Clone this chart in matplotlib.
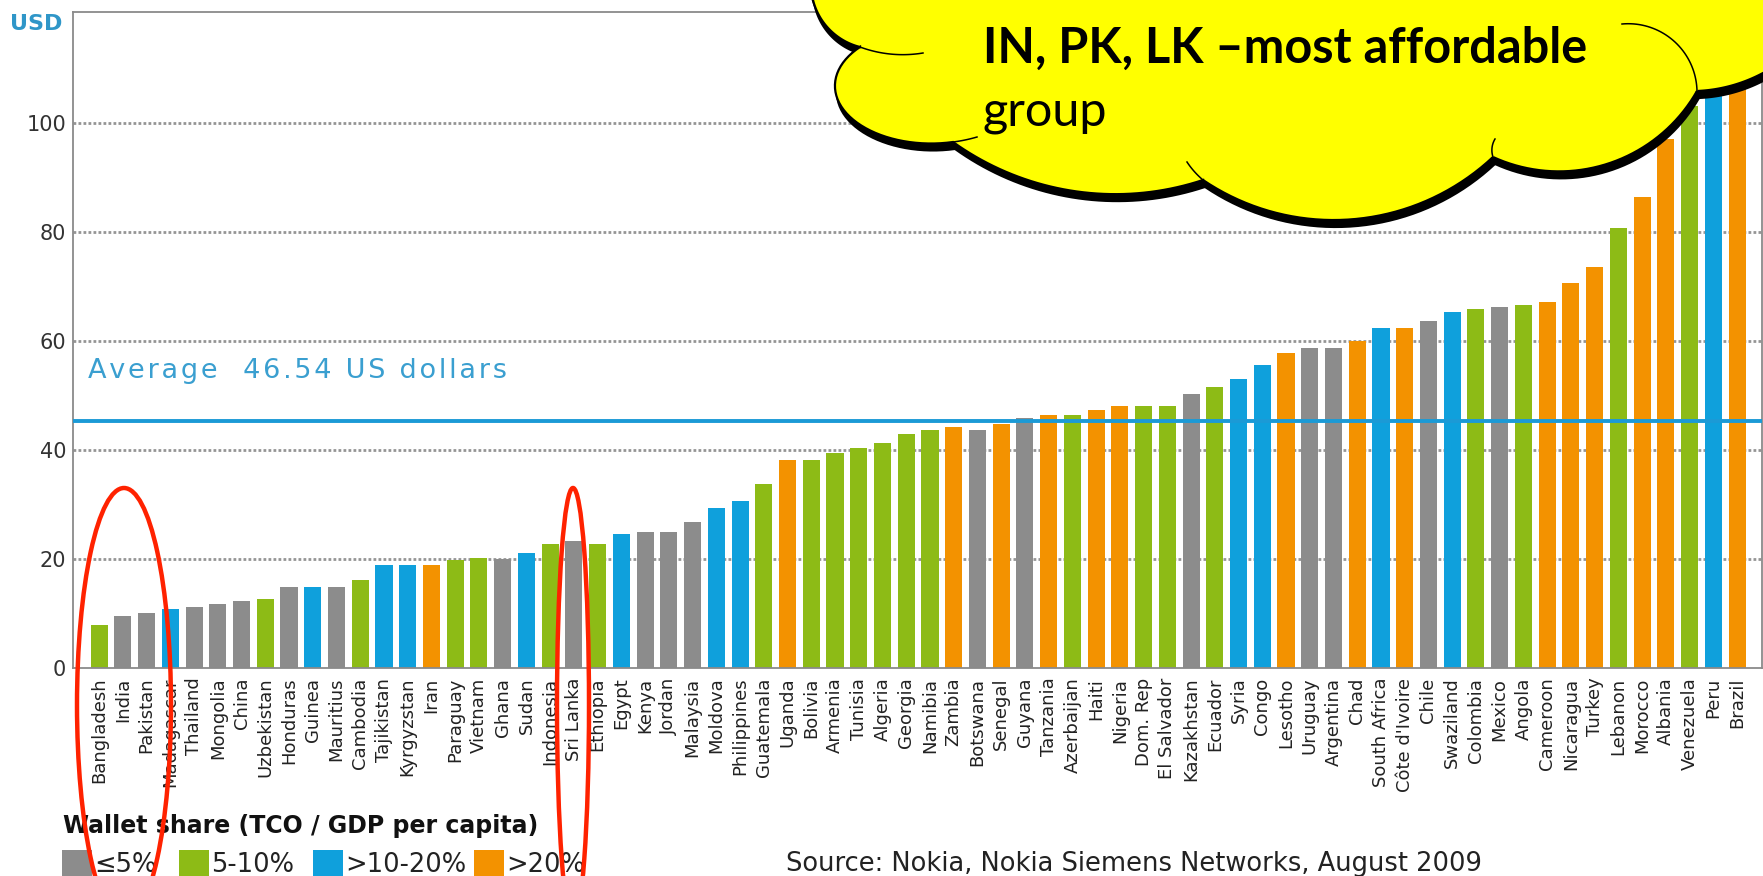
import numpy as np
import matplotlib.pyplot as plt
import matplotlib.transforms as mtransforms
from matplotlib.patches import Ellipse, Polygon, Rectangle

# TCO per month in USD, sorted low to high
countries = ['Bangladesh', 'India', 'Pakistan', 'Madagascar', 'Thailand', 'Mongolia', 'China',
             'Uzbekistan', 'Honduras', 'Guinea', 'Mauritius', 'Cambodia', 'Tajikistan', 'Kyrgyzstan',
             'Iran', 'Paraguay', 'Vietnam', 'Ghana', 'Sudan', 'Indonesia', 'Sri Lanka', 'Ethiopia',
             'Egypt', 'Kenya', 'Jordan', 'Malaysia', 'Moldova', 'Philippines', 'Guatemala', 'Uganda',
             'Bolivia', 'Armenia', 'Tunisia', 'Algeria', 'Georgia', 'Namibia', 'Zambia', 'Botswana',
             'Senegal', 'Guyana', 'Tanzania', 'Azerbaijan', 'Haiti', 'Nigeria', 'Dom. Rep',
             'El Salvador', 'Kazakhstan', 'Ecuador', 'Syria', 'Congo', 'Lesotho', 'Uruguay',
             'Argentina', 'Chad', 'South Africa', "Côte d'Ivoire", 'Chile', 'Swaziland', 'Colombia',
             'Mexico', 'Angola', 'Cameroon', 'Nicaragua', 'Turkey', 'Lebanon', 'Morocco', 'Albania',
             'Venezuela', 'Peru', 'Brazil']
tco_usd = [7.8, 9.5, 10.0, 10.9, 11.2, 11.7, 12.2,
           12.6, 14.9, 14.9, 14.9, 16.1, 18.8, 18.8,
           18.8, 19.8, 20.1, 20.0, 21.1, 22.8, 23.2, 22.8,
           24.5, 24.9, 24.9, 26.7, 29.3, 30.7, 33.7, 38.1,
           38.1, 39.4, 40.3, 41.2, 42.9, 43.7, 44.2, 43.7,
           44.7, 45.9, 46.4, 46.4, 47.3, 48.1, 48.1,
           48.1, 50.3, 51.6, 53.0, 55.6, 57.7, 58.6,
           58.7, 60.0, 62.3, 62.3, 63.6, 65.3, 65.8,
           66.2, 66.6, 67.2, 70.6, 73.6, 80.6, 86.3, 97.0,
           103.0, 110.0, 115.0]
# wallet share group: 0 = <=5%, 1 = 5-10%, 2 = >10-20%, 3 = >20%
wallet_group = [1, 0, 0, 2, 0, 0, 0,
                1, 0, 2, 0, 1, 2, 2,
                3, 1, 1, 0, 2, 1, 0, 1,
                2, 0, 0, 0, 2, 2, 1, 3,
                1, 1, 1, 1, 1, 1, 3, 0,
                3, 0, 3, 1, 3, 3, 1,
                1, 0, 1, 2, 2, 3, 0,
                0, 3, 2, 3, 0, 2, 1,
                0, 1, 3, 3, 3, 1, 3, 3,
                1, 2, 3]
group_labels = ['≤5%', '5-10%', '>10-20%', '>20%']
group_colors = ['#8c8c8c', '#8dbb16', '#0fa0dc', '#f39200']
yticks = [0, 20, 40, 60, 80, 100]
avg_text = 'Average  46.54 US dollars'
avg_level = 45.3

W, H = 1763, 876
fig = plt.figure(figsize=(W / 100, H / 100), dpi=100)
ax = fig.add_axes([73 / W, 1 - 668 / H, (1762 - 73) / W, (668 - 12) / H])

x = np.arange(len(countries))
ax.bar(x, tco_usd, width=0.72, color=[group_colors[g] for g in wallet_group], zorder=2)
for v in yticks[1:]:
    ax.axhline(v, color='#959595', lw=2, ls=(0, (1, 0.8)), zorder=1)
ax.axhline(avg_level, color='#1b9ad6', lw=2.8, zorder=3)

ax.set_xlim(-1.1, len(countries) - 1 + 1.05)
ax.set_ylim(0, 120.3)
ax.set_yticks(yticks)
ax.set_yticklabels([str(v) for v in yticks], fontsize=15, color='#333333')
# labels sit a little above their grid line
lift = mtransforms.ScaledTranslation(0, 4 / 100, fig.dpi_scale_trans)
for lab in ax.get_yticklabels():
    lab.set_transform(lab.get_transform() + lift)
ax.set_xticks(x)
ax.set_xticklabels(countries, rotation=90, fontsize=13, color='#222222',
                   family=['Liberation Sans Narrow', 'DejaVu Sans'])
ax.tick_params(axis='x', length=0, pad=7)
ax.tick_params(axis='y', length=0, pad=5)
for s in ax.spines.values():
    s.set_color('#8a8a8a')
    s.set_linewidth(1.3)

# overlay in pixel coordinates (y down) for texts, cloud and markings
ov = fig.add_axes([0, 0, 1, 1], zorder=5)
ov.set_xlim(0, W)
ov.set_ylim(H, 0)
ov.axis('off')

ov.text(10, 30, 'USD', fontsize=16, fontweight='bold', color='#2f96c8', va='baseline')
# letter-spaced like the original
ov.text(88, 378, '\u200a'.join(avg_text), fontsize=19.5, color='#3a9fd0', va='baseline')

# legend
ov.text(63, 833, 'Wallet share (TCO / GDP per capita)', fontsize=17, fontweight='bold',
        color='#111111', va='baseline')
leg_x = [62, 179, 313, 474]
for lx, lab, col in zip(leg_x, group_labels, group_colors):
    ov.add_patch(Rectangle((lx, 850), 30, 40, color=col, lw=0))
    ov.text(lx + 32, 872, lab, fontsize=18.5, color='#222222', va='baseline')
ov.text(786, 871, 'Source: Nokia, Nokia Siemens Networks, August 2009', fontsize=18.5,
        color='#222222', va='baseline')


def arc3(p0, pm, p1, sx=1.0, n=40):
    # arc through three points; sx squeezes x so the arc becomes an ellipse
    (x0, y0), (xm, ym), (x1, y1) = (p0[0] * sx, p0[1]), (pm[0] * sx, pm[1]), (p1[0] * sx, p1[1])
    d = 2 * (x0 * (ym - y1) + xm * (y1 - y0) + x1 * (y0 - ym))
    ux = ((x0**2 + y0**2) * (ym - y1) + (xm**2 + ym**2) * (y1 - y0) + (x1**2 + y1**2) * (y0 - ym)) / d
    uy = ((x0**2 + y0**2) * (x1 - xm) + (xm**2 + ym**2) * (x0 - x1) + (x1**2 + y1**2) * (xm - x0)) / d
    r = np.hypot(x0 - ux, y0 - uy)
    a0 = np.arctan2(y0 - uy, x0 - ux)
    am = (np.arctan2(ym - uy, xm - ux) - a0) % (2 * np.pi)
    a1 = (np.arctan2(y1 - uy, x1 - ux) - a0) % (2 * np.pi)
    if am < a1:
        t = np.linspace(a0, a0 + a1, n)
    else:
        t = np.linspace(a0, a0 - (2 * np.pi - a1), n)
    return np.column_stack([(ux + r * np.cos(t)) / sx, uy + r * np.sin(t)])


lobes = [((813, 0), (830, 30), (860, 47), 1.0),
         ((860, 47), (835, 88), (953, 142), 0.6),
         ((953, 142), (1090, 193), (1203, 180), 1.0),
         ((1203, 180), (1338, 220), (1493, 157), 1.0),
         ((1493, 157), (1600, 166), (1697, 91), 1.0),
         ((1697, 91), (1730, 86), (1763, 73), 1.0)]
inner_arcs = [((860, 47), (890, 54), (923, 53)),
              ((953, 142), (965, 140), (977, 137)),
              ((1203, 180), (1193, 170), (1187, 162)),
              ((1493, 157), (1492, 148), (1495, 139)),
              ((1697, 91), (1678, 45), (1622, 24))]
pts = np.vstack([[(800, -40)]] + [arc3(*l) for l in lobes] + [[(1800, 60), (1800, -40)]])
ov.add_patch(Polygon(pts + [2, 7], closed=True, fc='black', ec='black', lw=1.5, zorder=6))
ov.add_patch(Polygon(pts, closed=True, fc='#ffff00', ec='black', lw=1.6, zorder=7))
for a in inner_arcs:
    c = arc3(*a)
    ov.plot(c[:, 0], c[:, 1], color='black', lw=1.1, zorder=8)

ov.text(983, 63, 'IN, PK, LK \u2013most affordable', fontsize=35, fontweight='bold',
        family='Lato', color='black', va='baseline', zorder=9)
ov.text(983, 125, 'group', fontsize=35, family='Lato', color='black', va='baseline', zorder=9)

# red markings
ov.add_patch(Ellipse((124, 705), 94, 434, fill=False, ec='#ff2200', lw=3.2, zorder=10))
ov.add_patch(Ellipse((573, 705), 32, 434, fill=False, ec='#ff2200', lw=3.2, zorder=10))

fig.savefig('out.png', dpi=100)
